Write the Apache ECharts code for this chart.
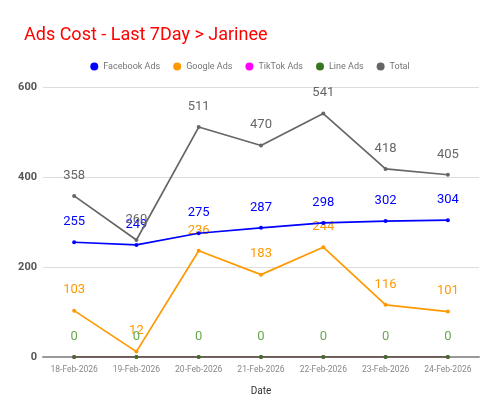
<!DOCTYPE html>
<html>
<head>
<meta charset="utf-8">
<script src="https://cdn.jsdelivr.net/npm/echarts@6/dist/echarts.min.js"></script>
<style>
  html, body { margin: 0; padding: 0; background: #fff; }
  #chart { width: 500px; height: 415px; }
</style>
</head>
<body>
<div id="chart"></div>
<script>
// data
var dates = ["18-Feb-2026", "19-Feb-2026", "20-Feb-2026", "21-Feb-2026", "22-Feb-2026", "23-Feb-2026", "24-Feb-2026"];
var facebookAds = [255, 249, 275, 287, 298, 302, 304];
var googleAds = [103, 12, 236, 183, 244, 116, 101];
var tiktokAds = [0, 0, 0, 0, 0, 0, 0];
var lineAds = [0, 0, 0, 0, 0, 0, 0];
var total = [358, 260, 511, 470, 541, 418, 405];

var chart = echarts.init(document.getElementById("chart"));

function mkSeries(name, data, color, showLabel, z) {
  return {
    name: name,
    type: "line",
    data: data,
    z: z,
    symbol: "circle",
    symbolSize: 4,
    lineStyle: { color: color, width: 1.7 },
    itemStyle: { color: color },
    label: {
      show: showLabel,
      position: "top",
      distance: 12,
      color: color,
      fontSize: 13,
      fontFamily: "Roboto",
    },
  };
}

var opt = {
  animation: false,
  textStyle: { fontFamily: "Roboto" },
  title: {
    text: "Ads Cost - Last 7Day > Jarinee",
    left: 19,
    top: 21,
    textStyle: { color: "#ff0000", fontSize: 18, fontWeight: "normal", fontFamily: "Roboto" },
  },
  legend: {
    top: 57,
    left: "center",
    icon: "circle",
    itemWidth: 8,
    itemHeight: 8,
    itemGap: 13,
    textStyle: { color: "#757575", fontSize: 9, fontFamily: "Roboto" },
  },
  grid: { left: 43, right: 21, top: 87, bottom: 58 },
  xAxis: {
    type: "category",
    data: dates,
    name: "Date",
    nameLocation: "middle",
    nameGap: 29,
    nameTextStyle: { color: "#333", fontSize: 10, fontFamily: "Roboto" },
    axisLine: { lineStyle: { color: "#999", width: 2 } },
    axisTick: { show: false },
    axisLabel: { color: "#888", fontSize: 8.5, margin: 8, fontFamily: "Roboto" },
  },
  yAxis: {
    type: "value",
    min: 0,
    max: 600,
    interval: 200,
    axisLine: { show: false },
    axisTick: { show: false },
    axisLabel: { color: "#555", fontSize: 11, fontWeight: "bold", margin: 6, fontFamily: "Roboto" },
    splitLine: { lineStyle: { color: "#dcdcdc", width: 1 } },
  },
  series: [
    mkSeries("Facebook Ads", facebookAds, "#0000ff", true, 4),
    mkSeries("Google Ads", googleAds, "#ff9900", true, 3),
    mkSeries("TikTok Ads", tiktokAds, "#ff00ff", false, 2),
    mkSeries("Line Ads", lineAds, "#38761d", true, 5),
    mkSeries("Total", total, "#666666", true, 6),
  ],
};
opt.series[3].label.color = "#6aa84f";
chart.setOption(opt);
</script>
</body>
</html>
